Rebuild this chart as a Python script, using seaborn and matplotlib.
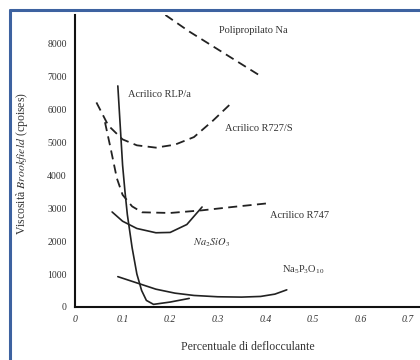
import numpy as np
import pandas as pd
import seaborn as sns
import matplotlib
matplotlib.use('Agg')
import matplotlib.pyplot as plt
from matplotlib.lines import Line2D

# curves (x = percentuale, y = viscosita in cP)
polipropilato_x = [0.19, 0.24, 0.29, 0.34, 0.39]
polipropilato_y = [8850, 8350, 7900, 7450, 7000]

r727_x = [0.045, 0.07, 0.10, 0.13, 0.17, 0.21, 0.25, 0.29, 0.33]
r727_y = [6200, 5500, 5080, 4900, 4830, 4920, 5150, 5650, 6200]

r747_x = [0.063, 0.075, 0.088, 0.10, 0.12, 0.141, 0.20, 0.267, 0.33, 0.41]
r747_y = [5600, 4800, 3900, 3400, 3050, 2870, 2850, 2930, 3030, 3150]

silicato_x = [0.078, 0.10, 0.13, 0.17, 0.20, 0.235, 0.267]
silicato_y = [2880, 2600, 2380, 2250, 2260, 2500, 3030]

rlp_x = [0.09, 0.095, 0.10, 0.105, 0.11, 0.12, 0.13, 0.14, 0.15, 0.165, 0.20, 0.24]
rlp_y = [6700, 5500, 4300, 3500, 2800, 1800, 1000, 500, 200, 80, 150, 260]

fosfato_x = [0.09, 0.13, 0.17, 0.21, 0.25, 0.30, 0.35, 0.39, 0.42, 0.445]
fosfato_y = [920, 730, 540, 420, 350, 310, 300, 320, 390, 520]

x_ticks = [0, 0.1, 0.2, 0.3, 0.4, 0.5, 0.6, 0.7]
x_tick_labels = ["0", "0.1", "0.2", "0.3", "0.4", "0.5", "0.6", "0.7"]
y_ticks = [0, 1000, 2000, 3000, 4000, 5000, 6000, 7000, 8000]

sns.set_theme(style="white")
plt.rcParams['font.family'] = ['Liberation Serif', 'DejaVu Serif']
plt.rcParams['mathtext.fontset'] = 'stix'

fig = plt.figure(figsize=(4.2, 3.6), dpi=100)
ax = fig.add_axes([75 / 420, 53 / 360, 345 / 420, 292 / 360])

dashed = dict(color="#222222", linestyle=(0, (5, 3)), linewidth=1.3, ax=ax)
solid = dict(color="#222222", linewidth=1.2, ax=ax)
sns.lineplot(x=polipropilato_x, y=polipropilato_y, sort=False, **dashed)
sns.lineplot(x=r727_x, y=r727_y, sort=False, **dashed)
sns.lineplot(x=r747_x, y=r747_y, sort=False, **dashed)
sns.lineplot(x=silicato_x, y=silicato_y, sort=False, **solid)
sns.lineplot(x=rlp_x, y=rlp_y, sort=False, **solid)
sns.lineplot(x=fosfato_x, y=fosfato_y, sort=False, **solid)

ax.set_xlim(0, 0.725)
ax.set_ylim(0, 8850)
ax.set_xticks(x_ticks)
ax.set_xticklabels(x_tick_labels, fontstyle="italic")
ax.set_yticks(y_ticks)
ax.tick_params(labelsize=7, colors="#333333", length=3, width=1,
               direction="out", pad=3)
ax.tick_params(axis="x", direction="in", pad=6)
for s in ["top", "right"]:
    ax.spines[s].set_visible(False)
for s in ["left", "bottom"]:
    ax.spines[s].set_color("#111111")
    ax.spines[s].set_linewidth(1.5)

txt = dict(fontsize=7.5, color="#333333")
ax.text(0.374, 8390, "Polipropilato Na", ha="center", va="center", **txt)
ax.text(0.111, 6450, "Acrilico RLP/a", ha="left", va="center", **txt)
ax.text(0.315, 5400, "Acrilico R727/S", ha="left", va="center", **txt)
ax.text(0.41, 2760, "Acrilico R747", ha="left", va="center", **txt)
ax.text(0.247, 1950, r"$\it{Na_2SiO_3}$", ha="left", va="center", **txt)
ax.text(0.435, 1120, r"$\mathregular{Na_5P_3O_{10}}$", ha="left", va="center", **txt)

ax.set_xlabel("Percentuale di deflocculante", fontsize=8.5, color="#333333",
              labelpad=12)
ax.set_ylabel(r"Viscosità $\it{Brookfield}$ (cpoises)", fontsize=8.5,
              color="#333333")
ax.yaxis.set_label_coords(-0.13, 0.49)

# blue frame of the scan
blue = "#3d62a0"
fig.add_artist(Line2D([9.5 / 420, 9.5 / 420], [0, 1 - 10 / 360],
                      transform=fig.transFigure, color=blue, linewidth=2.2))
fig.add_artist(Line2D([9.5 / 420, 1], [1 - 10 / 360, 1 - 10 / 360],
                      transform=fig.transFigure, color=blue, linewidth=2.2))

fig.savefig("out.png", dpi=100)
plt.close(fig)
